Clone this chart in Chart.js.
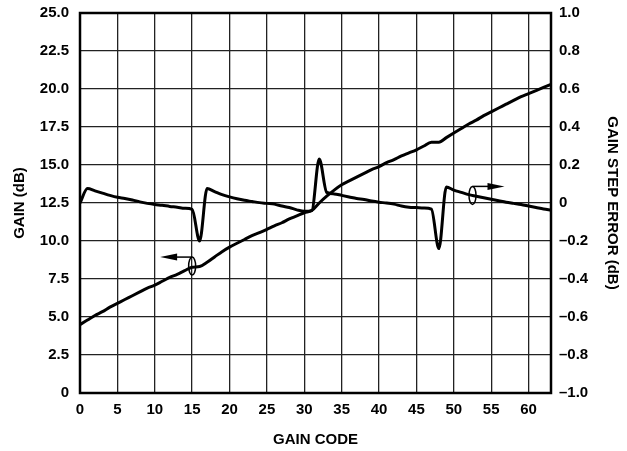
<!DOCTYPE html>
<html>
<head>
<meta charset="utf-8">
<script src="https://cdn.jsdelivr.net/npm/chart.js@4.4.0/dist/chart.umd.min.js"></script>
<style>
  html, body { margin: 0; padding: 0; background: #fff; }
  #wrap { width: 627px; height: 451px; }
</style>
</head>
<body>
<div id="wrap"><canvas id="gainChart" width="627" height="451"></canvas></div>
<script>
// Gain code on the x axis
const gainCodes = [0, 1, 2, 3, 4, 5, 6, 7, 8, 9, 10, 11, 12, 13, 14, 15, 16, 17, 18, 19,
    20, 21, 22, 23, 24, 25, 26, 27, 28, 29, 30, 31, 32, 33, 34, 35, 36, 37, 38, 39,
    40, 41, 42, 43, 44, 45, 46, 47, 48, 49, 50, 51, 52, 53, 54, 55, 56, 57, 58, 59,
    60, 61, 62, 63];

// Gain (dB), left axis
const gainValues = [4.5, 4.8, 5.1, 5.35, 5.65, 5.9, 6.15, 6.4, 6.65, 6.9,
    7.1, 7.35, 7.6, 7.8, 8.05, 8.27, 8.32, 8.6, 8.95, 9.3,
    9.6, 9.85, 10.1, 10.35, 10.55, 10.77, 11.0, 11.2, 11.45, 11.65,
    11.86, 12.0, 12.5, 12.95, 13.35, 13.7, 13.95, 14.2, 14.45, 14.7,
    14.9, 15.15, 15.35, 15.6, 15.8, 16.0, 16.25, 16.5, 16.5, 16.8,
    17.1, 17.4, 17.7, 17.95, 18.25, 18.5, 18.75, 19.0, 19.25, 19.5,
    19.7, 19.9, 20.1, 20.3];

// Gain step error (dB), right axis
const stepErrorValues = [0.0, 0.076, 0.064, 0.052, 0.04, 0.03, 0.024, 0.016, 0.006, -0.002,
    -0.008, -0.012, -0.018, -0.022, -0.028, -0.034, -0.2, 0.076, 0.06, 0.044,
    0.032, 0.022, 0.014, 0.008, 0.002, -0.002, -0.006, -0.016, -0.024, -0.036,
    -0.044, -0.04, 0.232, 0.056, 0.048, 0.04, 0.032, 0.024, 0.018, 0.01,
    0.004, 0.0, -0.006, -0.016, -0.022, -0.024, -0.026, -0.032, -0.24, 0.084,
    0.068, 0.056, 0.044, 0.036, 0.028, 0.02, 0.012, 0.004, -0.002, -0.008,
    -0.016, -0.024, -0.032, -0.038];

// Tick labels
const xTicks = [0, 5, 10, 15, 20, 25, 30, 35, 40, 45, 50, 55, 60];
const gainAxisRange = [0, 25];
const errorAxisRange = [-1, 1];

const FONT = { family: "'Liberation Sans', Arial, sans-serif", size: 15, weight: 'bold' };

function toPoints(ys) {
    return gainCodes.map((x, i) => ({ x: x, y: ys[i] }));
}

// fixed box sizes so the plot lands where the original one is
function fixWidth(w) {
    return s => { s.width = w; s.paddingTop = 0; s.paddingBottom = 0; };
}

// frame around the plot + the little "which axis" markers
const framePlugin = {
    id: 'frame',
    afterDatasetsDraw(chart) {
        const { ctx, chartArea: a, scales } = chart;
        ctx.save();
        ctx.strokeStyle = '#000';
        ctx.lineWidth = 2.5;
        ctx.strokeRect(a.left, a.top, a.right - a.left, a.bottom - a.top);

        function marker(cx, cy, dir) {
            ctx.lineWidth = 1.5;
            ctx.beginPath();
            ctx.ellipse(cx, cy, 3.5, 9, 0, 0, Math.PI * 2);
            ctx.stroke();
            let ly = cy - 9;
            let tip = cx + dir * 32;
            ctx.beginPath();
            ctx.moveTo(cx, ly);
            ctx.lineTo(tip - dir * 15, ly);
            ctx.stroke();
            ctx.fillStyle = '#000';
            ctx.beginPath();
            ctx.moveTo(tip, ly);
            ctx.lineTo(tip - dir * 17, ly - 3.5);
            ctx.lineTo(tip - dir * 17, ly + 3.5);
            ctx.closePath();
            ctx.fill();
        }
        marker(scales.x.getPixelForValue(15), scales.y.getPixelForValue(8.35), -1);
        marker(scales.x.getPixelForValue(52.5), scales.y2.getPixelForValue(0.04), 1);
        ctx.restore();
    }
};

let ctx = document.getElementById('gainChart').getContext('2d');
let gainChart = new Chart(ctx, {
    type: 'line',
    data: {
        datasets: [{
            label: 'Gain',
            data: toPoints(gainValues),
            yAxisID: 'y',
            borderColor: '#000',
            borderWidth: 3,
            pointRadius: 0,
            cubicInterpolationMode: 'monotone'
        }, {
            label: 'Gain step error',
            data: toPoints(stepErrorValues),
            yAxisID: 'y2',
            borderColor: '#000',
            borderWidth: 3,
            pointRadius: 0,
            cubicInterpolationMode: 'monotone'
        }]
    },
    options: {
        responsive: false,
        animation: false,
        layout: { padding: { top: 13, left: 0, right: 0, bottom: 0 } },
        plugins: { legend: { display: false }, tooltip: { enabled: false } },
        scales: {
            x: {
                type: 'linear',
                min: 0,
                max: 63,
                afterBuildTicks: s => { s.ticks = xTicks.map(v => ({ value: v })); },
                afterFit: s => { s.height = 58; s.paddingLeft = 0; s.paddingRight = 0; },
                ticks: { color: '#000', font: FONT, padding: 8, maxRotation: 0 },
                grid: { color: '#222', lineWidth: 1.3, drawTicks: false },
                border: { display: false },
                title: { display: true, text: 'GAIN CODE', color: '#000', font: FONT, padding: { top: 0, bottom: 2 } }
            },
            y: {
                position: 'left',
                min: gainAxisRange[0],
                max: gainAxisRange[1],
                afterFit: fixWidth(80),
                ticks: {
                    stepSize: 2.5, color: '#000', font: FONT, padding: 11,
                    callback: v => v === 0 ? '0' : v.toFixed(1)
                },
                grid: { color: '#222', lineWidth: 1.3, drawTicks: false },
                border: { display: false },
                title: { display: true, text: 'GAIN (dB)', color: '#000', font: FONT, padding: { top: 11, bottom: 0 } }
            },
            y2: {
                position: 'right',
                min: errorAxisRange[0],
                max: errorAxisRange[1],
                afterFit: fixWidth(76),
                ticks: {
                    stepSize: 0.2, color: '#000', font: FONT, padding: 8,
                    callback: v => {
                        let r = Math.round(v * 10) / 10;
                        if (r === 0) return '0';
                        return (r < 0 ? '\u2013' : '') + Math.abs(r).toFixed(1);
                    }
                },
                grid: { display: false, drawTicks: false },
                border: { display: false },
                title: { display: true, text: 'GAIN STEP ERROR (dB)', color: '#000', font: FONT, padding: { top: 6, bottom: 0 } }
            }
        }
    },
    plugins: [framePlugin]
});
</script>
</body>
</html>
